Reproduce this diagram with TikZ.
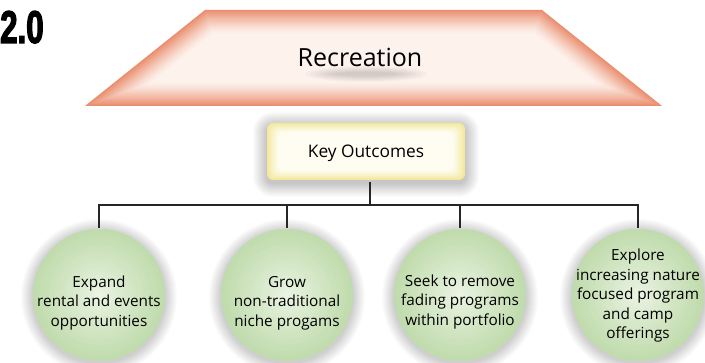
\documentclass[tikz,border=0pt]{standalone}
\usepackage{fontspec}
\setmainfont{Open Sans}
\newfontfamily\numfont[FakeStretch=0.68, BoldFeatures={FakeBold=2.5}]{Liberation Sans}
\definecolor{salEdge}{HTML}{EA8E6E}
\definecolor{salIn}{HTML}{FDF2EC}
\definecolor{yelEdge}{HTML}{F2E89C}
\definecolor{yelIn}{HTML}{FFFDF2}
\definecolor{grnEdge}{HTML}{C0DBAC}
\definecolor{grnIn}{HTML}{ECF5E6}
\tikzset{
  conn/.style={draw=black!85, line width=1.4pt},
  bubble/.style={circle, minimum size=134pt, inner sep=0pt, draw=none},
  btext/.style={align=center, font=\fontsize{15.3}{19.5}\selectfont, text=black},
  kobox/.style={rectangle, minimum width=198pt, minimum height=57pt, inner sep=0pt, draw=none,
     font=\fontsize{17.3}{20}\selectfont, text=black},
  rectext/.style={font=\fontsize{25}{30}\selectfont, text=black, inner sep=0pt},
  numtext/.style={font=\numfont\bfseries\fontsize{46}{50}\selectfont, inner sep=0pt}
}
\begin{document}
\begin{tikzpicture}[x=1pt,y=-1pt]
\useasboundingbox (0,0) rectangle (705,363);
\fill[white] (0,0) rectangle (705,363);

% ---- title number
\node[numtext, anchor=base west] (num) at (0,43) {2.0};

% ---- trapezoid with inward fade
\foreach \i in {0,...,26}{
  \pgfmathsetmacro\d{\i*0.9}
  \pgfmathsetmacro\p{100*(1-\i/26)^1.3}
  \fill[salEdge!\p!salIn] (205+0.35*\d,10+\d) -- (542-0.35*\d,10+\d)
       -- (662-2.85*\d,106-\d) -- (85+2.85*\d,106-\d) -- cycle;
}
% shadow under the title text
\foreach \k in {1,...,7}{
  \fill[black,opacity=0.025] (366,74) ellipse ({66-5*\k} and {9-\k});
}
\node[rectext, anchor=base] (rec) at (360,67) {Recreation};

% ---- key outcomes box shadow and fill
\foreach \k in {14,13,...,1}{
  \fill[black,opacity=0.014,rounded corners=6+\k] (267-\k,123-\k+3) rectangle (465+\k,180+\k+3);
}
\foreach \i in {0,...,12}{
  \pgfmathsetmacro\p{100*(1-\i/12)^1.2}
  \fill[yelEdge!\p!yelIn, rounded corners=6] (267+\i,123+0.8*\i) rectangle (465-\i,180-0.8*\i);
}
\node[kobox] (ko) at (366,153.5) {Key Outcomes};

% ---- bubbles
\foreach \cx/\nm in {99/c1,287/c2,460/c3,638/c4}{
  \foreach \k in {12,11,...,1}{
    \fill[black,opacity=0.014] (\cx,297) circle (66+\k);
  }
  \foreach \i in {0,...,33}{
    \pgfmathsetmacro\p{100*(1-\i/33)^0.9}
    \fill[grnEdge!\p!grnIn] (\cx,295) circle (66-2*\i);
  }
  \node[bubble] (\nm) at (\cx,295) {};
}
\node[btext] (t1) at ([yshift=-8pt]c1.center) {Expand\\rental and events\\opportunities};
\node[btext] (t2) at ([yshift=-8pt]c2.center) {Grow\\non-traditional\\niche progams};
\node[btext] (t3) at ([yshift=-7pt]c3.center) {Seek to remove\\fading programs\\within portfolio};
\node[btext] (t4) at ([yshift=-1pt]c4.center) {Explore\\increasing nature\\focused program\\and camp\\offerings};

% ---- connectors
\coordinate (bus) at (370,205);
\draw[conn] ([xshift=4pt]ko.south) -- (bus);
\foreach \c in {c1,c2,c3,c4}{
  \draw[conn] (\c.north) |- (bus);
}
\end{tikzpicture}
\end{document}
